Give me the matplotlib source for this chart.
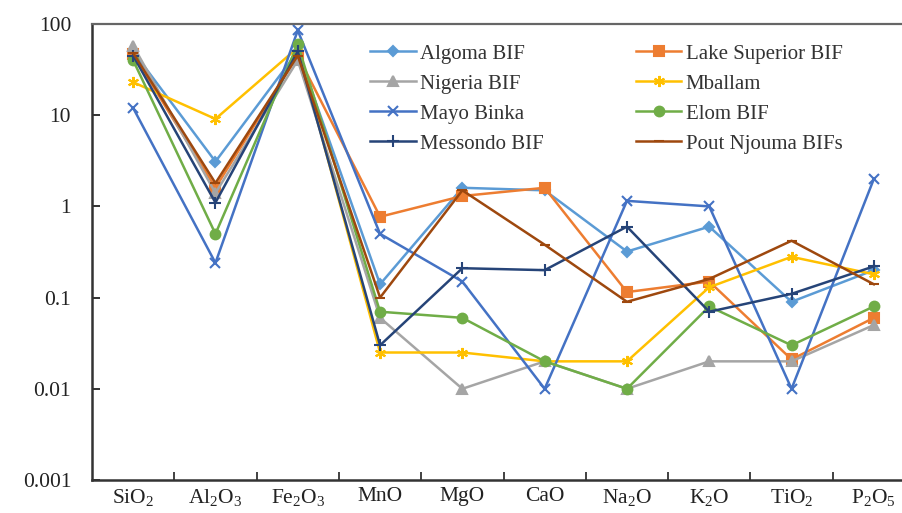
import numpy as np
import matplotlib.pyplot as plt
from matplotlib.ticker import FixedLocator, NullLocator

plt.rcParams['font.family'] = ['Liberation Serif', 'DejaVu Serif']
plt.rcParams['mathtext.fontset'] = 'custom'
plt.rcParams['mathtext.rm'] = 'Liberation Serif'
plt.rcParams['mathtext.it'] = 'Liberation Serif'

oxides = [r'SiO$_2$', r'Al$_2$O$_3$', r'Fe$_2$O$_3$', 'MnO', 'MgO', 'CaO',
          r'Na$_2$O', r'K$_2$O', r'TiO$_2$', r'P$_2$O$_5$']

algoma = [50, 3.1, 50, 0.14, 1.6, 1.5, 0.32, 0.6, 0.09, 0.2]
lake_superior = [47, 1.6, 45, 0.77, 1.3, 1.6, 0.115, 0.15, 0.021, 0.06]
nigeria = [58, 1.4, 40, 0.06, 0.01, 0.02, 0.01, 0.02, 0.02, 0.05]
mballam = [23, 9.1, 55, 0.025, 0.025, 0.02, 0.02, 0.13, 0.28, 0.18]
mayo_binka = [12, 0.24, 85, 0.5, 0.15, 0.01, 1.15, 1.0, 0.01, 2.0]
elom = [40, 0.5, 60, 0.07, 0.06, 0.02, 0.01, 0.08, 0.03, 0.08]
messondo = [45, 1.1, 50, 0.03, 0.21, 0.2, 0.6, 0.07, 0.11, 0.22]
pout_njouma = [48, 1.8, 45, 0.1, 1.5, 0.38, 0.09, 0.16, 0.42, 0.14]

series = [
    ("Algoma BIF", algoma, "#5B9BD5", "D", 5),
    ("Lake Superior BIF", lake_superior, "#ED7D31", "s", 7),
    ("Nigeria BIF", nigeria, "#A5A5A5", "^", 7),
    ("Mballam", mballam, "#FFC000", (6, 2, 0), 8),
    ("Mayo Binka", mayo_binka, "#4472C4", "x", 7),
    ("Elom BIF", elom, "#70AD47", "o", 7),
    ("Messondo BIF", messondo, "#264478", "+", 8),
    ("Pout Njouma BIFs", pout_njouma, "#9E480E", "_", 7),
]

fig = plt.figure(figsize=(9.02, 5.13), dpi=100)
ax = fig.add_axes([92 / 902, 33 / 513, 823 / 902, 456 / 513])

x = np.arange(len(oxides))
handles = {}
for name, vals, color, marker, ms in series:
    h, = ax.plot(x, vals, color=color, lw=1.8, marker=marker, ms=ms,
                 mec=color, mfc=color, mew=1.5, label=name)
    handles[name] = h

ax.set_yscale('log')
ax.set_ylim(0.001, 100)
ax.set_xlim(-0.5, len(oxides) - 0.5)
ax.yaxis.set_major_locator(FixedLocator([0.001, 0.01, 0.1, 1, 10, 100]))
ax.yaxis.set_minor_locator(NullLocator())
ax.set_yticklabels(['0.001', '0.01', '0.1', '1', '10', '100'])
ax.set_xticks(x)
ax.set_xticklabels(oxides)
ax.xaxis.set_minor_locator(FixedLocator(np.arange(0.5, len(oxides) - 1, 1)))

ax.tick_params(axis='x', which='major', length=0, labelsize=15.5, pad=5, colors='#222222')
ax.tick_params(axis='x', which='minor', direction='in', length=6, width=1.3, color='#333333')
ax.tick_params(axis='y', which='major', direction='in', length=6, width=1.3,
               labelsize=15.5, pad=15, colors='#222222')

for side in ['left', 'bottom']:
    ax.spines[side].set_linewidth(1.8)
    ax.spines[side].set_color('#333333')
ax.spines['top'].set_linewidth(1.6)
ax.spines['top'].set_color('#666666')
ax.spines['right'].set_visible(False)

order = ["Algoma BIF", "Nigeria BIF", "Mayo Binka", "Messondo BIF",
         "Lake Superior BIF", "Mballam", "Elom BIF", "Pout Njouma BIFs"]
ax.legend([handles[n] for n in order], order, ncol=2, frameon=False,
          loc='upper left', bbox_to_anchor=(0.338, 0.956), fontsize=15,
          borderpad=0, borderaxespad=0,
          handlelength=2.2, handletextpad=0.2, columnspacing=4.4,
          labelspacing=0.5, labelcolor='#333333')

fig.savefig("out.png", dpi=100)
